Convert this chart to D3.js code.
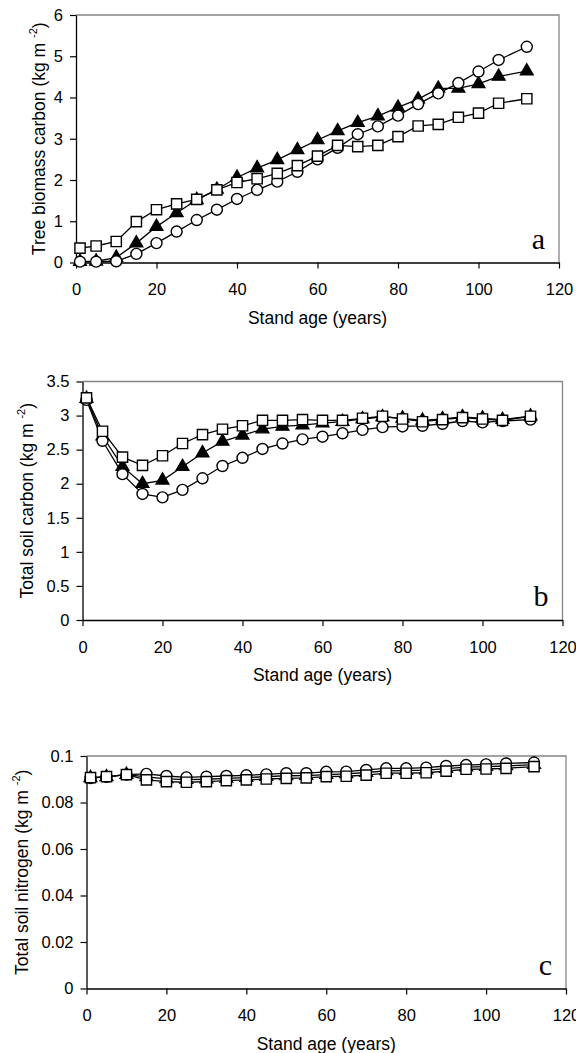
<!DOCTYPE html>
<html>
<head>
<meta charset="utf-8">
<script src="https://cdn.jsdelivr.net/npm/d3@7"></script>
<style>
  body { margin: 0; background: #fff; }
  svg { display: block; }
  text { fill: #000; }
</style>
</head>
<body>
<script>
// stand age of each model output (years)
const ages = [1, 5, 10, 15, 20, 25, 30, 35, 40, 45, 50, 55, 60, 65, 70, 75, 80, 85, 90, 95, 100, 105, 112];

// panel a - tree biomass carbon (kg m-2)
const biomassTriangle = [0.02, 0.03, 0.12, 0.47, 0.87, 1.20, 1.52, 1.77, 2.06, 2.29, 2.49, 2.73, 2.97, 3.19, 3.39, 3.55, 3.76, 3.96, 4.22, 4.22, 4.33, 4.51, 4.64];
const biomassCircle = [0.02, 0.02, 0.03, 0.21, 0.47, 0.75, 1.03, 1.28, 1.54, 1.76, 1.96, 2.20, 2.50, 2.78, 3.11, 3.30, 3.56, 3.84, 4.10, 4.35, 4.63, 4.91, 5.23];
const biomassSquare = [0.35, 0.40, 0.51, 0.99, 1.28, 1.42, 1.53, 1.76, 1.94, 2.03, 2.16, 2.35, 2.58, 2.84, 2.81, 2.84, 3.05, 3.31, 3.35, 3.52, 3.62, 3.86, 3.97];

// panel b - total soil carbon (kg m-2)
const soilCTriangle = [3.25, 2.70, 2.25, 2.00, 2.05, 2.25, 2.45, 2.62, 2.71, 2.80, 2.84, 2.86, 2.89, 2.91, 2.95, 2.98, 2.96, 2.93, 2.95, 2.98, 2.96, 2.94, 2.99];
const soilCCircle = [3.23, 2.63, 2.14, 1.85, 1.80, 1.91, 2.08, 2.26, 2.38, 2.51, 2.59, 2.65, 2.69, 2.74, 2.79, 2.83, 2.84, 2.85, 2.88, 2.92, 2.90, 2.92, 2.94];
const soilCSquare = [3.26, 2.77, 2.39, 2.27, 2.41, 2.59, 2.72, 2.80, 2.85, 2.93, 2.93, 2.94, 2.93, 2.93, 2.96, 2.99, 2.95, 2.91, 2.94, 2.97, 2.95, 2.93, 2.99];

// panel c - total soil nitrogen (kg m-2)
const soilNTriangle = [0.0906, 0.0910, 0.0920, 0.0910, 0.0902, 0.0898, 0.0900, 0.0904, 0.0907, 0.0911, 0.0915, 0.0916, 0.0920, 0.0923, 0.0929, 0.0936, 0.0937, 0.0939, 0.0946, 0.0952, 0.0954, 0.0957, 0.0963];
const soilNCircle = [0.0905, 0.0910, 0.0920, 0.0923, 0.0914, 0.0908, 0.0911, 0.0914, 0.0917, 0.0921, 0.0926, 0.0926, 0.0932, 0.0933, 0.0940, 0.0947, 0.0947, 0.0950, 0.0957, 0.0961, 0.0964, 0.0968, 0.0972];
const soilNSquare = [0.0907, 0.0911, 0.0920, 0.0897, 0.0890, 0.0887, 0.0890, 0.0894, 0.0897, 0.0901, 0.0904, 0.0906, 0.0911, 0.0913, 0.0918, 0.0926, 0.0926, 0.0928, 0.0935, 0.0943, 0.0944, 0.0947, 0.0954];

const xTicks = [0, 20, 40, 60, 80, 100, 120];
const xTitle = "Stand age (years)";

let width = 576, height = 1053;
const sans = "'Liberation Sans', Arial, sans-serif";
const serif = "'Liberation Serif', 'Times New Roman', serif";

let svg = d3.select("body").append("svg")
  .attr("width", width).attr("height", height);

const panels = [
  { box: [76, 559, 15, 262.5], yMax: 6, yTicks: [0, 1, 2, 3, 4, 5, 6],
    title: "Tree biomass carbon (kg m", titleX: 45, letter: "a",
    series: [biomassTriangle, biomassCircle, biomassSquare] },
  { box: [82.5, 562.5, 381.5, 620], yMax: 3.5, yTicks: [0, 0.5, 1, 1.5, 2, 2.5, 3, 3.5],
    title: "Total soil carbon (kg m", titleX: 33, letter: "b",
    series: [soilCTriangle, soilCCircle, soilCSquare] },
  { box: [86.5, 566, 756, 988.5], yMax: 0.1, yTicks: [0, 0.02, 0.04, 0.06, 0.08, 0.1],
    title: "Total soil nitrogen  (kg m", titleX: 28, letter: "c",
    series: [soilNTriangle, soilNCircle, soilNSquare] }
];

const shapes = [d3.symbolTriangle, d3.symbolCircle, d3.symbolSquare];
const shapeSize = [70, 95, 105];
const shapeFill = ["#000", "#fff", "#fff"];

panels.forEach(function(p) {
  let [x0, x1, y0, y1] = p.box;
  let x = d3.scaleLinear().domain([0, 120]).range([x0, x1]);
  let y = d3.scaleLinear().domain([0, p.yMax]).range([y1, y0]);
  let g = svg.append("g");

  // grey frame on top and right
  g.append("path")
    .attr("d", `M${x0},${y0}H${x1}V${y1}`)
    .attr("fill", "none").attr("stroke", "#858585").attr("stroke-width", 1.3);

  let xa = g.append("g").attr("transform", `translate(0,${y1})`)
    .call(d3.axisBottom(x).tickValues(xTicks).tickSize(6).tickPadding(15).tickSizeOuter(0));
  let ya = g.append("g").attr("transform", `translate(${x0},0)`)
    .call(d3.axisLeft(y).tickValues(p.yTicks).tickSize(6).tickPadding(7).tickSizeOuter(0)
      .tickFormat(d3.format("~g")));
  [xa, ya].forEach(function(a) {
    a.attr("font-family", sans).attr("font-size", 16.5);
    a.select(".domain").attr("stroke", "#000").attr("stroke-width", 1.3);
    a.selectAll(".tick line").attr("stroke", "#000").attr("stroke-width", 1.2);
  });

  // x title
  g.append("text")
    .attr("x", (x0 + x1) / 2).attr("y", y1 + 61)
    .attr("text-anchor", "middle")
    .attr("font-family", sans).attr("font-size", 17.5)
    .text(xTitle);

  // y title with superscript
  let t = g.append("text")
    .attr("transform", `translate(${p.titleX},${(y0 + y1) / 2}) rotate(-90)`)
    .attr("text-anchor", "middle")
    .attr("font-family", sans).attr("font-size", 17.5);
  t.append("tspan").text(p.title + " ");
  t.append("tspan").attr("font-size", 11).attr("dy", -8).text("-2");
  t.append("tspan").attr("dy", 8).text(")");

  // panel letter
  g.append("text")
    .attr("x", x1 - 14).attr("y", y1 - 14)
    .attr("text-anchor", "end")
    .attr("font-family", serif)
    .attr("font-size", 30)
    .text(p.letter);

  let line = d3.line().x((d, i) => x(ages[i])).y(d => y(d));

  p.series.forEach(function(vals, k) {
    let s = g.append("g");
    s.append("path").datum(vals)
      .attr("d", line).attr("fill", "none")
      .attr("stroke", "#000").attr("stroke-width", 1.3);
    s.selectAll("path.m").data(vals).join("path").attr("class", "m")
      .attr("transform", (d, i) => `translate(${x(ages[i])},${y(d)})`)
      .attr("d", d3.symbol().type(shapes[k]).size(shapeSize[k]))
      .attr("fill", shapeFill[k]).attr("stroke", "#000").attr("stroke-width", 1.4);
  });
});
</script>
</body>
</html>
